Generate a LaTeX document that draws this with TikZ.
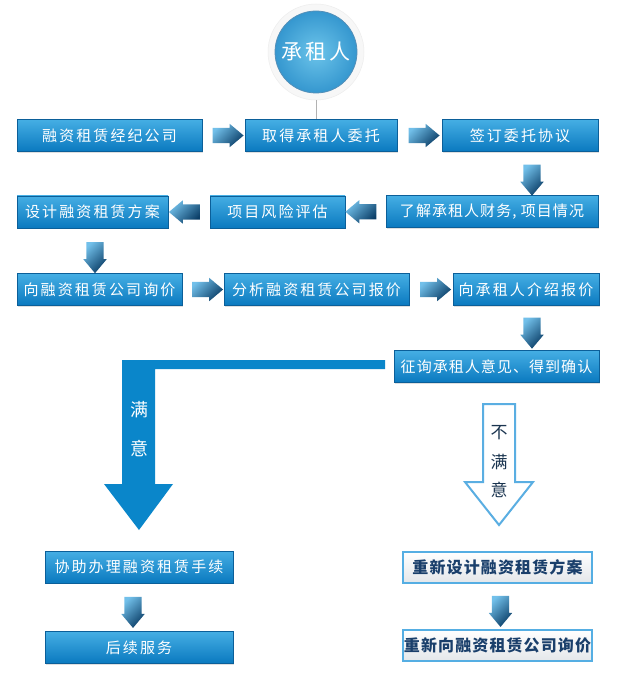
\documentclass[tikz,border=0pt]{standalone}
\usepackage{fontspec}
\newfontfamily\cjk[LetterSpace=14]{Noto Sans CJK SC}
\newfontfamily\cjkt[LetterSpace=7]{Noto Sans CJK SC}
\usetikzlibrary{shapes.arrows,shadows,calc}
\definecolor{boxtop}{HTML}{45AEE4}
\definecolor{boxbot}{HTML}{0A79BF}
\definecolor{boxedge}{HTML}{0B5F99}
\definecolor{arrlight}{HTML}{72C0EA}
\definecolor{arrdark}{HTML}{0A3D66}
\definecolor{bigblue}{HTML}{0A86CA}
\definecolor{outblue}{HTML}{5AAEE2}
\definecolor{darktext}{HTML}{1B3550}
\definecolor{lttext}{HTML}{1A3F6B}
\definecolor{ltedge}{HTML}{55AEE3}
\definecolor{ltbot}{HTML}{E4E7EA}
\definecolor{circin}{HTML}{6CC4EA}
\definecolor{circout}{HTML}{3597CF}
\tikzset{
  blbox/.style={draw=boxedge, line width=0.8pt, top color=boxtop, bottom color=boxbot,
    minimum height=32pt, inner sep=0pt, text=white,
    font=\cjk\fontsize{15}{17}\selectfont,
    drop shadow={shadow xshift=1.2pt, shadow yshift=-1.2pt, opacity=0.25}},
  ltbox/.style={draw=ltedge, line width=2pt, top color=white, bottom color=ltbot,
    minimum height=31pt, inner sep=0pt, text=lttext,
    font=\cjkt\bfseries\fontsize{16}{18}\selectfont},
  sarr/.style={single arrow, minimum height=31pt, minimum width=23pt,
    single arrow head extend=4pt, single arrow tip angle=80, inner xsep=0pt, inner ysep=7.5pt,
    top color=arrlight, bottom color=arrdark, shading angle=45, draw=none},
  rarr/.style={sarr, shape border rotate=0},
  larr/.style={sarr, shape border rotate=180},
  darr/.style={sarr, shape border rotate=270, inner xsep=8.5pt, inner ysep=0pt, single arrow head extend=3pt},
  wtxt/.style={text=white, font=\cjk\fontsize{18}{20}\selectfont},
  dtxt/.style={text=darktext, font=\cjk\fontsize{17}{19}\selectfont},
}
\begin{document}
\begin{tikzpicture}[x=1pt,y=-1pt]
\useasboundingbox[fill=white] (0,0) rectangle (630,676);

% top circle
\node[circle, minimum size=96pt, fill=black!3, draw=black!7, line width=0.5pt] (halo) at (316,52) {};
\node[circle, minimum size=82pt, inner color=circin, outer color=circout,
  draw=boxedge!70, line width=0.8pt, text=white,
  font=\cjk\fontsize{21}{23}\selectfont] (c) at (316,52) {承租人};

% row 1
\node[blbox, minimum width=185pt] (b1) at (109.5,135.5) {融资租赁经纪公司};
\node[blbox, minimum width=152pt] (b2) at (321,135.5) {取得承租人委托};
\node[blbox, minimum width=156pt] (b3) at (520,135.5) {签订委托协议};
\draw[black!30, line width=0.6pt] (halo.south) -- (halo.south |- b2.north);
\node[rarr] (a1) at ($(b1.east)!0.5!(b2.west)$) {};
\node[rarr] (a2) at ($(b2.east)!0.5!(b3.west)$) {};

% row 2
\node[blbox, minimum width=212pt, font=\cjkt\fontsize{15}{17}\selectfont] (r2a) at (492,211.5) {了解承租人财务, 项目情况};
\node[blbox, minimum width=135pt] (r2b) at (277.5,212) {项目风险评估};
\node[blbox, minimum width=151pt] (r2c) at (92.5,212) {设计融资租赁方案};
\node[darr] (a3) at (532,175) {};
\node[larr] (a4) at ($(r2a.west)!0.5!(r2b.east)$) {};
\node[larr] (a5) at ($(r2b.west)!0.5!(r2c.east)$) {};

% row 3
\node[blbox, minimum width=165pt] (r3a) at (99.5,289.5) {向融资租赁公司询价};
\node[blbox, minimum width=185pt] (r3b) at (316.5,289.5) {分析融资租赁公司报价};
\node[blbox, minimum width=146pt] (r3c) at (526,289.5) {向承租人介绍报价};
\node[darr] (a6) at (95,252.5) {};
\node[rarr] (a7) at ($(r3a.east)!0.5!(r3b.west)$) {};
\node[rarr] (a8) at ($(r3b.east)!0.5!(r3c.west)$) {};

% row 4
\node[blbox, minimum width=205pt, font=\cjkt\fontsize{15}{17}\selectfont] (r4) at (496.5,366.5) {征询承租人意见、得到确认};
\node[darr] (a9) at (532,328) {};

% big satisfied arrow
\fill[bigblue] (385,360) -- (122,360) -- (122,484) -- (104,484) -- (139,530)
  -- (173,484) -- (155,484) -- (155,369) -- (385,369) -- cycle;
\node[wtxt] (m1) at (139,410) {满};
\node[wtxt] (m2) at (139,448) {意};

% outline not-satisfied arrow
\draw[outblue, line width=2pt, fill=white, line join=miter] (483,404) -- (515,404) -- (515,482)
  -- (533,482) -- (499,525) -- (465,482) -- (483,482) -- cycle;
\node[dtxt] (n1) at (499,433) {不};
\node[dtxt] (n2) at (499,462) {满};
\node[dtxt] (n3) at (499,490) {意};

% bottom left
\node[blbox, minimum width=188pt] (l1) at (139,567) {协助办理融资租赁手续};
\node[blbox, minimum width=188pt] (l2) at (139,647.5) {后续服务};
\node[darr] (a10) at ($(l1.south)!0.5!(l2.north)+(-6,0)$) {};

% bottom right
\node[ltbox, minimum width=189pt] (rr1) at (497.5,567) {重新设计融资租赁方案};
\node[ltbox, minimum width=189pt] (rr2) at (497.5,645.5) {重新向融资租赁公司询价};
\node[darr] (a11) at ($(rr1.south)!0.5!(rr2.north)+(3,0)$) {};
\end{tikzpicture}
\end{document}
